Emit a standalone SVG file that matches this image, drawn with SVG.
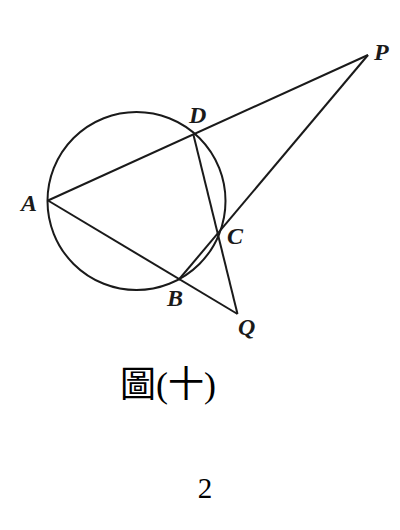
<svg xmlns="http://www.w3.org/2000/svg" width="400" height="530" viewBox="0 0 400 530">
<style>
.ln{stroke:#1a1a1a;stroke-width:2;fill:none;stroke-linejoin:round}
.lb{font-family:"Liberation Serif",serif;font-style:italic;font-weight:bold;font-size:24px;fill:#1a1a1a}
</style>
<rect width="400" height="530" fill="#fff"/>
<g id="circle"><circle class="ln" cx="136.5" cy="201" r="89"/></g>
<g id="connectors">
<line class="ln" x1="48" y1="200.5" x2="368" y2="55"/>
<line class="ln" x1="48" y1="200.5" x2="237.5" y2="314"/>
<line class="ln" x1="193.5" y1="135" x2="237.5" y2="314"/>
<line class="ln" x1="178.5" y1="280" x2="368" y2="55"/>
</g>
<g id="labels">
<text class="lb" x="374" y="60">P</text>
<text class="lb" x="189" y="123">D</text>
<text class="lb" x="21" y="211">A</text>
<text class="lb" x="227" y="244">C</text>
<text class="lb" x="167" y="306">B</text>
<text class="lb" x="238" y="335">Q</text>
</g>
<g id="caption">
<text x="120" y="397" font-family="'Liberation Serif','Noto Sans CJK TC',serif" font-size="36">圖(十)</text>
<text x="205" y="498" text-anchor="middle" font-family="'Liberation Serif',serif" font-size="29">2</text>
</g>
</svg>
